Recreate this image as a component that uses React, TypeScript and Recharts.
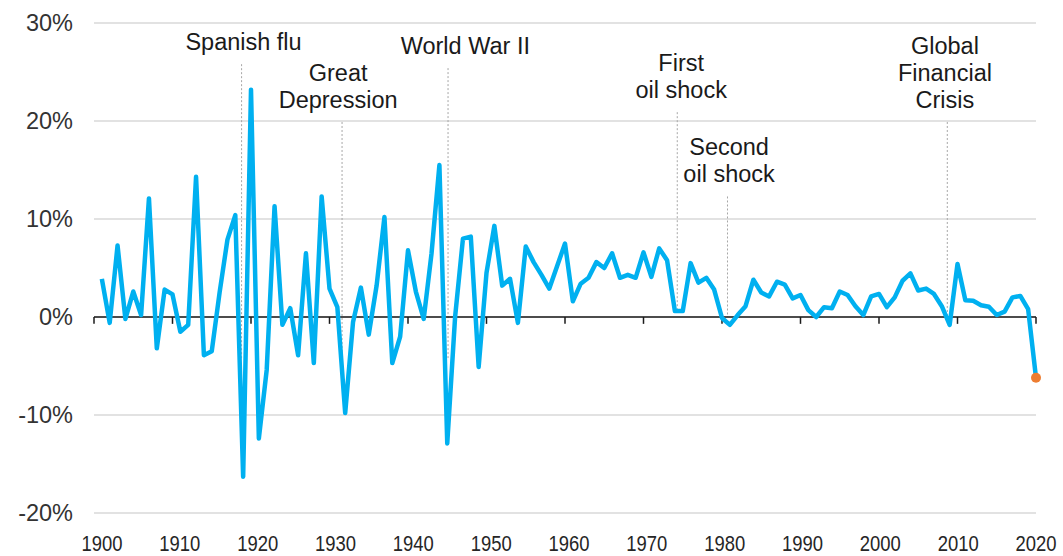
import React from 'react';
import { LineChart, Line, XAxis, YAxis, CartesianGrid, ReferenceLine } from 'recharts';

// annual real GDP growth, %, 1901 - 2020 (2020 is an estimate, drawn as a dot)
const firstYear = 1901;
const growth = [
  3.9, -0.6, 7.3, -0.2, 2.6, 0.2, 12.1, -3.2, 2.8, 2.3,       // 1901-1910
  -1.5, -0.8, 14.3, -3.9, -3.5, 2.5, 7.9, 10.4, -16.3, 23.2,  // 1911-1920
  -12.4, -5.4, 11.3, -0.8, 0.9, -3.9, 6.5, -4.7, 12.3, 2.9,   // 1921-1930
  1.0, -9.8, -0.5, 3.0, -1.8, 3.2, 10.2, -4.7, -2.0, 6.8,     // 1931-1940
  2.6, -0.2, 6.5, 15.5, -12.9, 0.0, 8.0, 8.2, -5.1, 4.5,      // 1941-1950
  9.3, 3.2, 3.9, -0.6, 7.2, 5.6, 4.3, 2.9, 5.2, 7.5,          // 1951-1960
  1.6, 3.4, 4.0, 5.6, 5.0, 6.5, 4.0, 4.3, 4.0, 6.6,           // 1961-1970
  4.1, 7.0, 5.8, 0.6, 0.6, 5.5, 3.5, 4.0, 2.8, -0.1,          // 1971-1980
  -0.8, 0.2, 1.1, 3.8, 2.5, 2.1, 3.6, 3.3, 1.9, 2.25,         // 1981-1990
  0.7, 0.0, 1.0, 0.9, 2.6, 2.25, 1.1, 0.2, 2.1, 2.35,         // 1991-2000
  1.0, 2.0, 3.7, 4.45, 2.7, 2.9, 2.35, 1.1, -0.8, 5.4,        // 2001-2010
  1.7, 1.65, 1.2, 1.05, 0.2, 0.55, 2.0, 2.15, 0.8, -6.2,      // 2011-2020
];

const xTicks = [1900, 1910, 1920, 1930, 1940, 1950, 1960, 1970, 1980, 1990, 2000, 2010, 2020];
const yTicks = [-20, -10, 0, 10, 20, 30];

const events = [
  { lines: ['Spanish flu'], year: 1918.8, textYear: 1919.05, top: 25.8, bottom: -4.4 },
  { lines: ['Great', 'Depression'], year: 1931.6, textYear: 1931.1, top: 19.9, bottom: -4.4 },
  { lines: ['World War II'], year: 1945.1, textYear: 1947.3, top: 25.4, bottom: -4.4 },
  { lines: ['First', 'oil shock'], year: 1974.3, textYear: 1974.8, top: 20.9, bottom: 0.5 },
  { lines: ['Second', 'oil shock'], year: 1980.7, textYear: 1980.9, top: 12.3, bottom: 0 },
  { lines: ['Global', 'Financial', 'Crisis'], year: 2008.7, textYear: 2008.4, top: 19.9, bottom: 0 },
];

const data = growth.map((g, i) => ({ year: firstYear + i, growth: g }));

const W = 1063;
const H = 556;
const Y_AXIS_W = 94;
const RIGHT = 27;
const PX_PER_YEAR = (W - Y_AXIS_W - RIGHT) / (xTicks[xTicks.length - 1] - xTicks[0]);
const FONT = '"Liberation Sans", Arial, sans-serif';

const XTick = ({ x, y, payload }: any) => {
  // labels sit a little right of the tick marks, less so toward the end
  const shift = 8 - (8 * (payload.value - 1900)) / 120;
  return (
    <text
      x={x + shift}
      y={y}
      dy={30}
      textAnchor="middle"
      fontSize={22}
      fontFamily={FONT}
      fill="#262626"
      textLength={41}
      lengthAdjust="spacingAndGlyphs"
    >
      {payload.value}
    </text>
  );
};

const YTick = ({ x, y, payload }: any) => (
  <text x={x} y={y} dy={8} textAnchor="end" fontSize={23.5} fontFamily={FONT} fill="#333333">
    {payload.value}%
  </text>
);

const EventLabel = ({ viewBox, lines, shift }: any) => {
  const cx = viewBox.x + shift;
  const y0 = viewBox.y - 14 - (lines.length - 1) * 27;
  return (
    <text x={cx} y={y0} textAnchor="middle" fontSize={23.5} fontFamily={FONT} fill="#1a1a1a">
      {lines.map((l: string, i: number) => (
        <tspan key={i} x={cx} dy={i === 0 ? 0 : 27}>
          {l}
        </tspan>
      ))}
    </text>
  );
};

const lastIndex = data.length - 1;

const renderDot = (props: any) => {
  if (props.index !== lastIndex) return <g key={`d-${props.index}`} />;
  return <circle key={`d-${props.index}`} cx={props.cx} cy={props.cy} r={5} fill="#ED7D31" stroke="none" />;
};

const App: React.FC = () => {
  return (
    <div style={{ position: 'absolute', left: 0, top: 0, width: W, height: H, background: '#fff', fontFamily: FONT }}>
      <LineChart width={W} height={H} data={data} margin={{ top: 23, right: RIGHT, bottom: 0, left: 0 }}>
        <CartesianGrid vertical={false} stroke="#d9d9d9" strokeWidth={1.5} />
        <XAxis
          dataKey="year"
          type="number"
          domain={[1900, 2020]}
          ticks={xTicks}
          axisLine={false}
          tickLine={false}
          height={43}
          tick={<XTick />}
          interval={0}
        />
        <YAxis
          type="number"
          domain={[-20, 30]}
          ticks={yTicks}
          axisLine={false}
          tickLine={false}
          tickMargin={15}
          width={Y_AXIS_W}
          tick={<YTick />}
          interval={0}
        />
        {events.map((e) => (
          <ReferenceLine
            key={e.lines.join(' ')}
            segment={[{ x: e.year, y: e.top }, { x: e.year, y: e.bottom }]}
            stroke="#a6a6a6"
            strokeWidth={1}
            strokeDasharray="2 2"
            label={<EventLabel lines={e.lines} shift={(e.textYear - e.year) * PX_PER_YEAR} />}
          />
        ))}
        <ReferenceLine y={0} stroke="#1a1a1a" strokeWidth={1.5} />
        {xTicks.map((t) => (
          <ReferenceLine
            key={`tick-${t}`}
            segment={[{ x: t, y: 0 }, { x: t, y: -0.7 }]}
            stroke="#1a1a1a"
            strokeWidth={1.5}
          />
        ))}
        <Line
          type="linear"
          dataKey="growth"
          stroke="#00B0F0"
          strokeWidth={4.5}
          strokeLinejoin="round"
          dot={renderDot}
          activeDot={false}
          isAnimationActive={false}
        />
      </LineChart>
    </div>
  );
};

export default App;
